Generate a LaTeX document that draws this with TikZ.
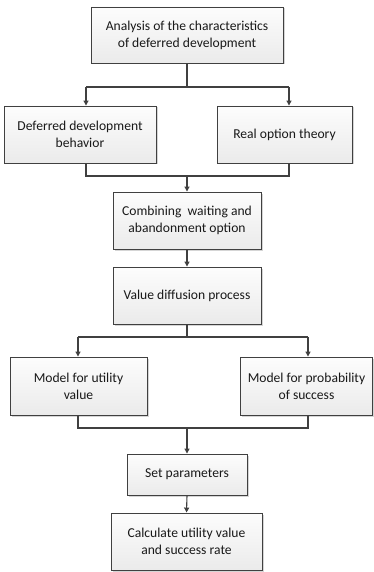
\documentclass[tikz,border=0pt]{standalone}
\usepackage{fontspec}
\setmainfont{Carlito}
\usetikzlibrary{shadows,arrows.meta}
\begin{document}
\begin{tikzpicture}[x=1pt,y=-1pt,
  box/.style={draw=black!75, line width=0.9pt, top color=gray!2, bottom color=gray!16,
    drop shadow={shadow xshift=1.5pt, shadow yshift=-1.5pt, fill=gray!55, opacity=0.6},
    align=center, font=\fontsize{13.6}{17}\selectfont, text=black!90, inner sep=1pt},
  conn/.style={draw=black!75, line width=1.1pt},
  arr/.style={conn, -{Triangle[length=5pt,width=5pt]}}]
\useasboundingbox (0,0) rectangle (374,572);
\node[box, minimum width=192pt, minimum height=56pt] (b1) at (187,35) {Analysis of the characteristics\\of deferred development};
\node[box, minimum width=152pt, minimum height=57pt] (b2) at (80,134.5) {Deferred development\\behavior};
\node[box, minimum width=135pt, minimum height=57pt] (b3) at (284.5,134.5) {Real option theory};
\node[box, minimum width=148pt, minimum height=57pt] (b4) at (187,220.5) {Combining \ waiting and\\abandonment option};
\node[box, minimum width=148pt, minimum height=57pt] (b5) at (187,295.5) {Value diffusion process};
\node[box, minimum width=137pt, minimum height=58pt] (b6) at (78.5,386) {Model for utility\\value};
\node[box, minimum width=132pt, minimum height=58pt] (b7) at (306.5,386) {Model for probability\\of success};
\node[box, minimum width=120pt, minimum height=41pt] (b8) at (187,474.5) {Set parameters};
\node[box, minimum width=151pt, minimum height=57pt] (b9) at (186.5,541.5) {Calculate utility value\\and success rate};
% split 1
\coordinate (s1) at (187,87);
\coordinate (s1l) at (86,87);
\coordinate (s1r) at (289,87);
\draw[conn] (b1.south) -- (s1);
\draw[conn] (s1l) -- (s1r);
\draw[arr] (s1l) -- (b2.north -| s1l);
\draw[arr] (s1r) -- (b3.north -| s1r);
% merge 1
\coordinate (m1) at (187,176);
\coordinate (m1l) at (86,176);
\coordinate (m1r) at (289,176);
\draw[conn] (b2.south -| m1l) -- (m1l) -- (m1r) -- (b3.south -| m1r);
\draw[arr] (m1) -- (b4.north);
\draw[arr] (b4.south) -- (b5.north);
% split 2
\coordinate (s2) at (187,337);
\coordinate (s2l) at (78,337);
\coordinate (s2r) at (308,337);
\draw[conn] (b5.south) -- (s2);
\draw[conn] (s2l) -- (s2r);
\draw[arr] (s2l) -- (b6.north -| s2l);
\draw[arr] (s2r) -- (b7.north -| s2r);
% merge 2
\coordinate (m2) at (187,428);
\coordinate (m2l) at (78,428);
\coordinate (m2r) at (308,428);
\draw[conn] (b6.south -| m2l) -- (m2l) -- (m2r) -- (b7.south -| m2r);
\draw[arr] (m2) -- (b8.north);
\draw[arr] (b8.south) -- (b9.north);
\end{tikzpicture}
\end{document}
